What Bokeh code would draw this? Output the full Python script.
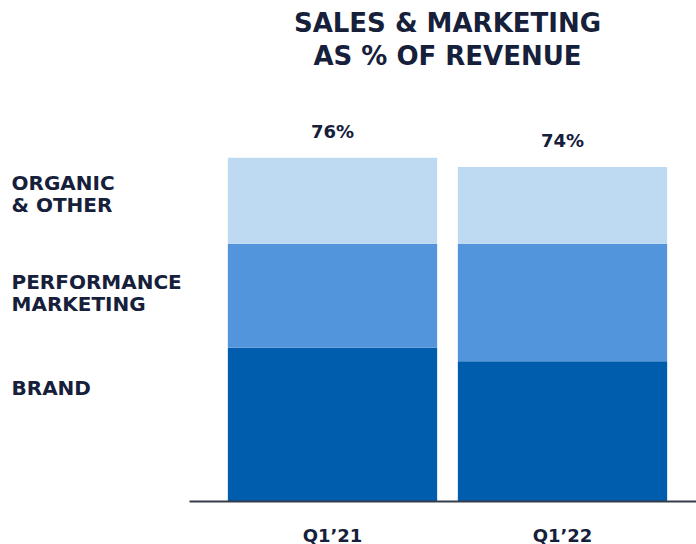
from bokeh.plotting import figure
from bokeh.layouts import row
from bokeh.models import ColumnDataSource, FixedTicker, Label, Range1d
from bokeh.core.properties import value
from bokeh.embed import file_html
from bokeh.resources import INLINE

quarters = ["Q1\u201921", "Q1\u201922"]
brand = [34, 31]
performance = [23, 26]
organic = [19, 17]
totals = [b + p + o for b, p, o in zip(brand, performance, organic)]
segment_names = ["ORGANIC\n& OTHER", "PERFORMANCE\nMARKETING", "BRAND"]
label_y = [68.0, 46.1, 25.2]
colors = {"brand": "#005DAE", "performance": "#5395DC", "organic": "#BEDAF3"}
TEXT = "#16203A"
FONT = "DejaVu Sans"

Y_END = 110.8
FRAME_H = 501
BOTTOM = 43
LEFT_W = 189
RIGHT_W = 696 - LEFT_W
PX_PER_UNIT = 230.0
X_START = -(332 - LEFT_W) / PX_PER_UNIT

xs = list(range(len(quarters)))
p_top = [b + p for b, p in zip(brand, performance)]

src = ColumnDataSource(dict(x=xs, b0=[0] * len(xs), b1=brand, p1=p_top, o1=totals,
                            tot=totals, lab=[f"{t}%" for t in totals]))

# ---- left panel: segment names ----
left = figure(frame_width=LEFT_W, frame_height=FRAME_H, output_backend="svg", toolbar_location=None,
              x_range=Range1d(0, LEFT_W), y_range=Range1d(0, Y_END),
              x_axis_location=None, y_axis_location=None,
              min_border_left=0, min_border_right=0, min_border_top=0, min_border_bottom=BOTTOM)
left.outline_line_color = None
left.xgrid.visible = False
left.ygrid.visible = False
lsrc = ColumnDataSource(dict(x=[11] * len(segment_names), y=label_y, t=segment_names))
left.text(x="x", y="y", text="t", source=lsrc, text_align="left", text_baseline="middle",
          text_font=value(FONT), text_font_style="bold", text_font_size="20px",
          text_color=TEXT, text_line_height=0.93)

# ---- right panel: bars ----
p = figure(frame_width=RIGHT_W, frame_height=FRAME_H, output_backend="svg", toolbar_location=None,
           x_range=Range1d(X_START, X_START + RIGHT_W / PX_PER_UNIT), y_range=Range1d(0, Y_END),
           y_axis_location=None, x_axis_location="below",
           min_border_left=0, min_border_right=0, min_border_top=0, min_border_bottom=BOTTOM)
p.outline_line_color = None
p.xgrid.visible = False
p.ygrid.visible = False

W = 0.91
p.vbar(x="x", bottom="b0", top="b1", width=W, source=src, fill_color=colors["brand"], line_color=None)
p.vbar(x="x", bottom="b1", top="p1", width=W, source=src, fill_color=colors["performance"], line_color=None)
p.vbar(x="x", bottom="p1", top="o1", width=W, source=src, fill_color=colors["organic"], line_color=None)

p.text(x="x", y="tot", text="lab", source=src, text_align="center", text_baseline="middle",
       y_offset=-26, text_font=value(FONT), text_font_style="bold", text_font_size="18px",
       text_color=TEXT)

ax = p.xaxis[0]
ax.ticker = FixedTicker(ticks=xs)
ax.major_label_overrides = {i: q for i, q in zip(xs, quarters)}
ax.major_tick_line_color = None
ax.minor_tick_line_color = None
ax.major_tick_out = 0
ax.major_tick_in = 0
ax.axis_line_color = "#353C4A"
ax.axis_line_width = 2
ax.major_label_standoff = 23
ax.major_label_text_font = FONT
ax.major_label_text_font_style = "bold"
ax.major_label_text_font_size = "18px"
ax.major_label_text_color = TEXT

p.add_layout(Label(x=0.5, y=102.1, text="SALES & MARKETING\nAS % OF REVENUE",
                   text_align="center", text_baseline="middle", text_font=FONT,
                   text_font_style="bold", text_font_size="26px", text_color=TEXT,
                   text_line_height=1.1))

layout = row(left, p)
open("out.html", "w").write(file_html(layout, INLINE))
